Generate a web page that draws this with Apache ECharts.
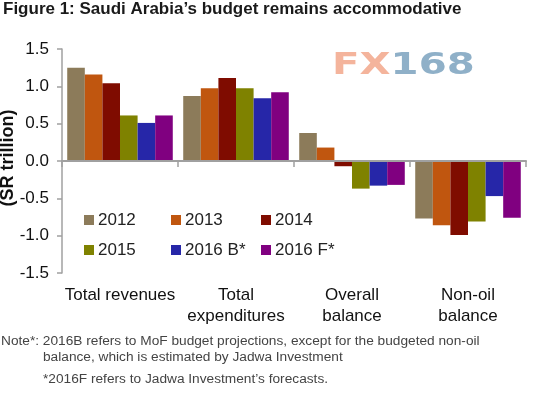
<!DOCTYPE html>
<html>
<head>
<meta charset="utf-8">
<script src="https://cdn.jsdelivr.net/npm/echarts@6/dist/echarts.min.js"></script>
<style>
  html,body{margin:0;padding:0;background:#fff;}
  #chart{width:544px;height:399px;}
</style>
</head>
<body>
<div id="chart"></div>
<script>
// categories and series (SR trillion)
let cats = ['Total revenues', 'Total\nexpenditures', 'Overall\nbalance', 'Non-oil\nbalance'];
let years = ['2012', '2013', '2014', '2015', '2016 B*', '2016 F*'];
let v2012 = [1.25, 0.87, 0.375, -0.77];
let v2013 = [1.16, 0.975, 0.18, -0.86];
let v2014 = [1.04, 1.11, -0.07, -0.99];
let v2015 = [0.61, 0.975, -0.37, -0.81];
let v2016B = [0.51, 0.84, -0.33, -0.47];
let v2016F = [0.61, 0.92, -0.32, -0.76];
let yTicks = [-1.5, -1.0, -0.5, 0.0, 0.5, 1.0, 1.5];
let colors = ['#8c7b5a', '#c0560f', '#7f0c00', '#7f8200', '#2626a8', '#800080'];

let font = 'Liberation Sans, Arial, sans-serif';
let gray = '#a0a0a0';
let chart = echarts.init(document.getElementById('chart'));

let vals = [v2012, v2013, v2014, v2015, v2016B, v2016F];
let series = years.map((y, i) => ({
  name: y,
  type: 'bar',
  xAxisIndex: 0,
  yAxisIndex: 0,
  data: vals[i],
  barGap: '0%',
  barCategoryGap: '9%',
  itemStyle: {color: colors[i]}
}));
// zero line drawn as well, same place as the axis line
series[5].markLine = {
  silent: true,
  symbol: 'none',
  z: 10,
  label: {show: false},
  lineStyle: {color: gray, width: 2, type: 'solid', opacity: 1},
  data: [{yAxis: 0}]
};

// legend split in three columns of two, like the original
function legendCol(names, left){
  return {
    data: names,
    orient: 'vertical',
    left: left,
    top: 206,
    itemWidth: 10,
    itemHeight: 10,
    itemGap: 12,
    icon: 'rect',
    textStyle: {fontFamily: font, fontSize: 17, color: '#222', lineHeight: 18, padding: [0, 0, 0, -1]}
  };
}

chart.setOption({
  animation: false,
  color: colors,
  // grid 0 holds the bars and the zero line, grid 1 only the category labels
  grid: [
    {left: 62, right: 18, top: 49, bottom: 126},
    {left: 62, right: 18, top: 49, bottom: 126}
  ],
  legend: [
    legendCol(['2012', '2015'], 79),
    legendCol(['2013', '2016 B*'], 166),
    legendCol(['2014', '2016 F*'], 256)
  ],
  xAxis: [
    {
      type: 'category',
      gridIndex: 0,
      data: cats,
      axisLine: {show: true, onZero: true, lineStyle: {color: gray, width: 2}},
      axisTick: {show: true, length: 6, lineStyle: {color: gray, width: 1.5}},
      axisLabel: {show: false}
    },
    {
      type: 'category',
      gridIndex: 1,
      data: cats,
      axisLine: {show: false, onZero: false},
      axisTick: {show: false},
      axisLabel: {
        interval: 0,
        fontFamily: font, fontSize: 17, color: '#111',
        margin: 12, lineHeight: 21, verticalAlign: 'top'
      }
    }
  ],
  yAxis: [
    {
      type: 'value',
      gridIndex: 0,
      min: yTicks[0],
      max: yTicks[yTicks.length - 1],
      interval: 0.5,
      splitLine: {show: false},
      axisLine: {show: true, lineStyle: {color: gray, width: 1.5}},
      axisTick: {show: true, length: 5, lineStyle: {color: gray, width: 1.5}},
      axisLabel: {
        fontFamily: font, fontSize: 17, color: '#111', margin: 13,
        formatter: v => v.toFixed(1)
      }
    },
    {
      type: 'value',
      gridIndex: 1,
      min: yTicks[0],
      max: yTicks[yTicks.length - 1],
      interval: 0.5,
      show: false
    }
  ],
  series: series,
  graphic: [
    {
      type: 'text', left: 3, top: 1,
      style: {text: 'Figure 1: Saudi Arabia\u2019s budget remains accommodative',
        font: 'bold 17px ' + font, fill: '#1a1a1a'}
    },
    {
      type: 'text', x: 8, y: 158, rotation: Math.PI / 2,
      style: {text: '(SR trillion)', font: 'bold 18px ' + font, fill: '#111',
        align: 'center', verticalAlign: 'middle'}
    },
    {
      type: 'text', x: 332, y: 51, scaleX: 1.55, scaleY: 1.15,
      style: {
        text: '{a|FX}{b|168}',
        rich: {
          a: {fill: '#f4b49c', font: 'bold 26px DejaVu Sans'},
          b: {fill: '#8fb0c8', font: 'bold 26px DejaVu Sans'}
        }
      }
    },
    {
      type: 'text', left: 1, top: 334,
      style: {text: 'Note*: 2016B refers to MoF budget projections, except for the budgeted non-oil',
        font: '13.7px ' + font, fill: '#444'}
    },
    {
      type: 'text', left: 43, top: 350,
      style: {text: 'balance, which is estimated by Jadwa Investment',
        font: '13.7px ' + font, fill: '#444'}
    },
    {
      type: 'text', left: 43, top: 372,
      style: {text: '*2016F refers to Jadwa Investment\u2019s forecasts.',
        font: '13.7px ' + font, fill: '#444'}
    }
  ]
});
</script>
</body>
</html>
